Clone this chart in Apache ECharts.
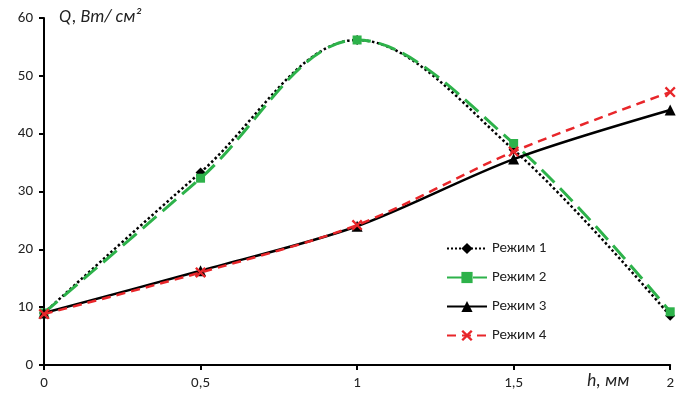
<!DOCTYPE html>
<html><head><meta charset="utf-8">
<script src="https://cdn.jsdelivr.net/npm/echarts@6/dist/echarts.min.js"></script>
<style>html,body{margin:0;padding:0;background:#fff}#c{width:677px;height:394px}</style>
</head><body><div id="c"></div>
<script>
const xValues = [0, 0.5, 1, 1.5, 2];
const xTickLabels = ['0', '0,5', '1', '1,5', '2'];
const seriesNames = ['Режим 1', 'Режим 2', 'Режим 3', 'Режим 4'];
const mode1 = [9.0, 33.3, 56.2, 37.2, 8.5];
const mode2 = [9.0, 32.3, 56.2, 38.3, 9.2];
const mode3 = [9.0, 16.3, 24.0, 35.6, 44.1];
const mode4 = [8.8, 16.0, 24.2, 36.9, 47.2];
const yTicks = [0, 10, 20, 30, 40, 50, 60];

const pair = arr => xValues.map((x, i) => [x, arr[i]]);
const crossPath = 'path://M0,1.5 L1.5,0 L5,3.5 L8.5,0 L10,1.5 L6.5,5 L10,8.5 L8.5,10 L5,6.5 L1.5,10 L0,8.5 L3.5,5 Z';
const font = 'Calibri, Carlito, "Open Sans", sans-serif';

const chart = echarts.init(document.getElementById('c'));
chart.setOption({
  animation: false,
  grid: {left: 44, right: 5, top: 18, bottom: 29, containLabel: false},
  legend: {
    orient: 'vertical', left: 441, top: 236, itemGap: 14, itemWidth: 40, itemHeight: 14,
    textStyle: {fontSize: 15, color: '#222', fontFamily: font},
    data: seriesNames
  },
  xAxis: {
    type: 'value', min: 0, max: 2, interval: 0.5,
    axisLine: {lineStyle: {color: '#000', width: 2}},
    axisTick: {show: true, length: 5, lineStyle: {color: '#000', width: 2}},
    splitLine: {show: false},
    axisLabel: {fontSize: 15, color: '#222', fontFamily: font, margin: 11,
      formatter: v => { const i = xValues.indexOf(v); return i >= 0 ? xTickLabels[i] : ''; }}
  },
  yAxis: {
    type: 'value', min: 0, max: 60, interval: 10,
    axisLine: {show: true, lineStyle: {color: '#000', width: 2}},
    axisTick: {show: true, length: 5, lineStyle: {color: '#000', width: 2}},
    splitLine: {show: false},
    axisLabel: {fontSize: 15, color: '#222', fontFamily: font, margin: 11,
      formatter: v => yTicks.includes(v) ? String(v) : ''}
  },
  graphic: [
    {type: 'text', left: 59, top: 8, style: {text: 'Q, Вт/ см²', font: 'italic 18px ' + font, fill: '#222'}},
    {type: 'text', left: 587, top: 372, style: {text: 'h, мм', font: 'italic 18px ' + font, fill: '#222'}}
  ],
  series: [
    {name: seriesNames[0], type: 'line', smooth: 0.35, data: pair(mode1),
      symbol: 'diamond', symbolSize: 10, z: 2,
      lineStyle: {color: '#000', width: 2.5, type: 'dotted'}, itemStyle: {color: '#000'}},
    {name: seriesNames[1], type: 'line', smooth: 0.35, data: pair(mode2),
      symbol: 'rect', symbolSize: 9, z: 3,
      lineStyle: {color: '#2db24a', width: 3, type: [18, 8]}, itemStyle: {color: '#2db24a'}},
    {name: seriesNames[2], type: 'line', smooth: 0.3, data: pair(mode3),
      symbol: 'triangle', symbolSize: 11, z: 4,
      lineStyle: {color: '#000', width: 2.5, type: 'solid'}, itemStyle: {color: '#000'}},
    {name: seriesNames[3], type: 'line', smooth: 0.3, data: pair(mode4),
      symbol: crossPath, symbolSize: 11, z: 5,
      lineStyle: {color: '#e8262a', width: 2.5, type: [9, 6]}, itemStyle: {color: '#e8262a'}}
  ]
});
</script></body></html>
